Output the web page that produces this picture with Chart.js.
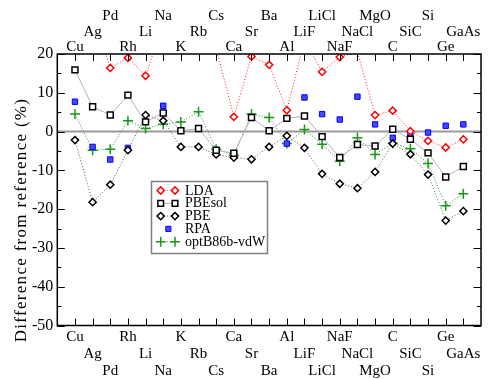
<!DOCTYPE html>
<html>
<head>
<meta charset="utf-8">
<script src="https://cdn.jsdelivr.net/npm/chart.js@4.4.1/dist/chart.umd.min.js"></script>
<style>
  html, body { margin: 0; padding: 0; background: #fff; }
  #wrap { width: 491px; height: 379px; }
</style>
</head>
<body>
<div id="wrap"><canvas id="chart"></canvas></div>
<script>
// solids along the x axis
const solids = ["Cu", "Ag", "Pd", "Rh", "Li", "Na", "K", "Rb", "Cs", "Ca", "Sr", "Ba",
                "Al", "LiF", "LiCl", "NaF", "NaCl", "MgO", "C", "SiC", "Si", "Ge", "GaAs"];

// difference from reference (%) for each functional
const lda     = [24, 30, 16.4, 19.0, 14.4, 28, 26, 24, 21.5, 3.8, 19.35, 17.2,
                 5.5, 23.5, 15.4, 19.2, 20.5, 4.25, 5.4, 0.1, -2.4, -4.1, -2.0];
const pbesol  = [15.9, 6.4, 4.25, 9.4, 2.5, 4.8, 0.2, 0.8, -4.8, -5.6, 3.65, 0.2,
                 3.4, 4.0, -1.3, -6.7, -3.35, -3.7, 0.6, -2.0, -5.5, -11.7, -9.0];
const pbe     = [-2.2, -18.2, -13.7, -4.8, 4.25, 2.8, -3.95, -3.95, -5.9, -6.7, -7.15, -3.95,
                 -1.1, -4.2, -10.9, -13.45, -14.6, -10.4, -3.1, -5.85, -11.1, -22.95, -20.5];
const rpa     = [7.7, -3.95, -7.2, -4.2, null, 6.65, null, null, null, null, null, null,
                 -3.1, 8.8, 4.5, 3.1, 9.0, 1.85, -1.6, -0.95, -0.25, 1.5, 1.85];
const optb86b = [4.5, -4.8, -4.55, 2.8, 0.8, 1.9, 2.5, 5.1, -4.55, -6.1, 4.5, 3.65,
                 -3.1, 0.55, -3.25, -7.65, -1.6, -5.9, -3.0, -4.4, -8.25, -19.1, -16.0];

const yTicks = [20, 10, 0, -10, -20, -30, -40, -50];

const serif = "'Liberation Serif', 'Times New Roman', serif";
const pts = vals => vals.map((v, i) => ({ x: i, y: v }));
// symbols above the frame are not drawn (like the original plot)
const hideOff = r => ctx => (ctx.raw && ctx.raw.y > yTicks[0] ? 0 : r);

const frame = {
  id: 'frame',
  beforeDatasetsDraw(chart) {
    const { ctx, chartArea: a, scales: { y } } = chart;
    const y0 = y.getPixelForValue(0);
    ctx.save();
    ctx.strokeStyle = '#9a9a9a';
    ctx.lineWidth = 2;
    ctx.beginPath();
    ctx.moveTo(a.left, y0);
    ctx.lineTo(a.right, y0);
    ctx.stroke();
    ctx.restore();
  },
  afterDatasetsDraw(chart) {
    const { ctx, chartArea: a, scales: { x, y } } = chart;
    ctx.save();
    ctx.strokeStyle = '#000';
    ctx.lineWidth = 1.5;
    ctx.strokeRect(a.left, a.top, a.right - a.left, a.bottom - a.top);

    // inward tick marks
    ctx.lineWidth = 1;
    ctx.beginPath();
    solids.forEach((s, i) => {
      const px = Math.round(x.getPixelForValue(i)) + 0.5;
      ctx.moveTo(px, a.top); ctx.lineTo(px, a.top + 7);
      ctx.moveTo(px, a.bottom); ctx.lineTo(px, a.bottom - 7);
    });
    for (let v = yTicks[yTicks.length - 1]; v <= yTicks[0]; v += 5) {
      const py = Math.round(y.getPixelForValue(v)) + 0.5;
      const len = v % 10 === 0 ? 7.5 : 4;
      ctx.moveTo(a.left, py); ctx.lineTo(a.left + len, py);
      ctx.moveTo(a.right, py); ctx.lineTo(a.right - len, py);
    }
    ctx.stroke();

    // legend box
    const bx = 151.5, by = 181.5, bw = 116, bh = 72;
    ctx.fillStyle = '#fff';
    ctx.fillRect(bx, by, bw, bh);
    ctx.strokeStyle = '#808080';
    ctx.lineWidth = 1.5;
    ctx.strokeRect(bx, by, bw, bh);
    ctx.font = '14px ' + serif;
    ctx.textBaseline = 'middle';
    chart.data.datasets.forEach((ds, i) => {
      const ry = 190.5 + i * 12.8;
      const x1 = 160.7, x2 = 175;
      if (ds.showLine !== false) {
        ctx.save();
        ctx.strokeStyle = ds.borderColor;
        ctx.lineWidth = ds.borderWidth;
        ctx.setLineDash(ds.borderDash || []);
        ctx.beginPath();
        ctx.moveTo(x1, ry); ctx.lineTo(x2, ry);
        ctx.stroke();
        ctx.restore();
      }
      const opts = { pointStyle: ds.pointStyle, radius: ds.legendRadius, rotation: 0, borderWidth: ds.pointBorderWidth };
      ctx.fillStyle = ds.pointBackgroundColor;
      ctx.strokeStyle = ds.pointBorderColor;
      ctx.lineWidth = ds.pointBorderWidth;
      ctx.setLineDash([]);
      const xs = ds.showLine === false ? [(x1 + x2) / 2 + 0.5] : [x1, x2];
      xs.forEach(px => Chart.helpers.drawPoint(ctx, opts, px, ry));
      ctx.fillStyle = '#000';
      ctx.fillText(ds.label, 185, ry + 0.5);
    });

    // y axis title
    ctx.translate(21.5, 220);
    ctx.rotate(-Math.PI / 2);
    ctx.font = '17px ' + serif;
    ctx.letterSpacing = '1.3px';
    ctx.textAlign = 'center';
    ctx.fillStyle = '#000';
    ctx.fillText('Difference from reference (%)', 0, 0);
    ctx.restore();
  }
};

const xTickFont = { family: serif, size: 15 };

new Chart(document.getElementById('chart'), {
  type: 'line',
  data: {
    datasets: [
      { label: 'LDA', data: pts(lda), borderColor: '#ff2020', borderWidth: 1, borderDash: [1, 2],
        pointStyle: 'rectRot', pointRadius: hideOff(3.6), legendRadius: 3.6,
        pointBorderColor: '#ff0000', pointBackgroundColor: '#fff', pointBorderWidth: 1.5 },
      { label: 'PBEsol', data: pts(pbesol), borderColor: '#b4b4b4', borderWidth: 1,
        pointStyle: 'rect', pointRadius: 4.2, legendRadius: 4,
        pointBorderColor: '#000', pointBackgroundColor: '#fff', pointBorderWidth: 1.5 },
      { label: 'PBE', data: pts(pbe), borderColor: '#555', borderWidth: 1, borderDash: [1, 2],
        pointStyle: 'rectRot', pointRadius: 3.6, legendRadius: 3.6,
        pointBorderColor: '#000', pointBackgroundColor: '#fff', pointBorderWidth: 1.5 },
      { label: 'RPA', data: pts(rpa), showLine: false,
        pointStyle: 'rect', pointRadius: 3.8, legendRadius: 3.6,
        pointBorderColor: '#0000ff', pointBackgroundColor: '#4848ff', pointBorderWidth: 1 },
      { label: 'optB86b-vdW', data: pts(optb86b), borderColor: '#1a961a', borderWidth: 1, borderDash: [1, 2],
        pointStyle: 'cross', pointRadius: 5, legendRadius: 5,
        pointBorderColor: '#1a961a', pointBackgroundColor: '#1a961a', pointBorderWidth: 1.5 }
    ]
  },
  options: {
    responsive: true,
    maintainAspectRatio: false,
    animation: false,
    layout: { padding: { left: 0, right: 10, top: 0, bottom: 0 } },
    plugins: { legend: { display: false }, tooltip: { enabled: false } },
    scales: {
      x: {
        type: 'linear', position: 'bottom', min: -1, max: 23,
        grid: { display: false, drawTicks: false }, border: { display: false },
        ticks: {
          stepSize: 1, autoSkip: false, maxRotation: 0, minRotation: 0, padding: 3,
          color: '#000', font: { ...xTickFont, lineHeight: '17px' },
          callback: v => {
            if (v < 0 || v >= solids.length) return '';
            return [...Array(v % 3).fill(''), solids[v]];
          }
        },
        afterFit: s => { s.height = 53.5; }
      },
      x2: {
        type: 'linear', position: 'top', min: -1, max: 23,
        grid: { display: false, drawTicks: false }, border: { display: false },
        ticks: {
          stepSize: 1, autoSkip: false, maxRotation: 0, minRotation: 0, padding: -1,
          color: '#000', font: { ...xTickFont, lineHeight: '15.5px' },
          callback: v => {
            if (v < 0 || v >= solids.length) return '';
            return [solids[v], ...Array(v % 3).fill('')];
          }
        },
        afterFit: s => { s.height = 54; }
      },
      y: {
        min: yTicks[yTicks.length - 1], max: yTicks[0],
        grid: { display: false, drawTicks: false }, border: { display: false },
        ticks: { stepSize: 10, padding: 4, color: '#000', font: { family: serif, size: 16 } },
        afterFit: s => { s.width = 57.3; }
      }
    }
  },
  plugins: [frame]
});
</script>
</body>
</html>
